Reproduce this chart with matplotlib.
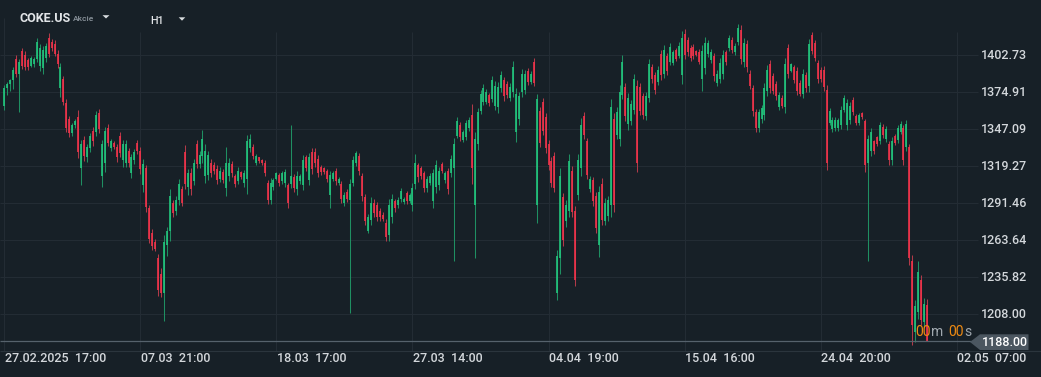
import matplotlib
matplotlib.use("Agg")
import matplotlib.pyplot as plt
from matplotlib.patches import Polygon
from matplotlib.transforms import blended_transform_factory as blend

# ---------------- data ----------------
opens = [
    1365,1378,1381.5,1384,1400,1389,1406,1403,1399,1395,1396,1400,1395,1393,1401,1416,1413,1411,1404,1378,
    1385,1367,1355,1344,1350,1356,1318,1339,1326,1333,1346,1345,1359,1312,1322,1348,1333,1337,1334,1342,
    1324,1322,1331,1314,1324,1337,1331,1305,1318,1288,1269,1262,1250,1238,1224,1260,1271,1292,1286,1294,
    1302,1330,1304,
    1314,1308,1336,1321,1327,1312,1313,1322,1320,1317,1310,1315,1303,1312,1321,1312,1308,1315,1307,1310,
    1333,1334,1322,1326,1324,1322,1307,1294,1304,1310,1313,1308,1307,1305,1306,1311,1302,1308,1305,1326,
    1309,1330,1330,1325,1319,1318,1316,1298,1310,1316,1306.5,1306,1292,1300,1294,1307,1322,1327,1312,1296,
    1271,1279,1292,1290,
    1286,1283,1277,1268,1281,1293,1290,1295,1292.5,1299,1293.5,1290,1306,1320,1318,1314,1303,1307,1293,1304,
    1305,1321,1309,1316,1314,1318,1342,1350,1339,1341,1348,1358,1290,1336,1361,1368,1368,1373,1370,1365,
    1364,1378,1384,1381,1371,1375,1345,1355,1375,1377,1391,1383,1398,1290,1361,1368,1356,1336,1323,1327,
    1224,1250,1296,1278,
    1286,1316,1286,1298,1318,1357,1338,1302,1309,1297,1260,1306,1278,1282,1290,1355,1343,1340,1373,1379,
    1351,1353,1362,1380,1379,1372,1357,1371,1394,1388,1383,1404,1389,1402,1398,1397,1406.5,1402,1388,1419,
    1414,1408,1409,1406,1405,1385,1393,1404,1399,1402,1382,1385,1389,1405,1408,1414,1405,1413,1422,1398,
    1411,1389,1378,
    1360,1348,1355,1358,1376,1396,1387,1381,1364,1371,1364,1408,1391,1394,1391,1382,1374,1388,1380,1418,
    1412,1397,1392,1392,1377,1352,1347,1348,1348,1350,1362,1350,1354,1369,1357,1352,1359.5,1353,1322,1331,
    1338,1341,1338,1349,1340,1336,1324,1342,1339,1345,1348,1334,1334,1248,1195,1210,1234,1202,1215,
]
highs = [
    1380.5,1382.8,1385.0,1394.0,1403.0,1400.0,1408.3,1406.0,1400.8,1402.3,1401.5,1415.8,1411.3,1409.8,1412.0,
    1419.5,1415.0,1414.3,1406.8,1397.0,1387.3,1370.0,1357.3,1352.0,1355.0,1361.8,1339.3,1342.3,1336.3,1344.5,
    1349.0,1361.0,1362.5,1339.3,1349.0,1351.3,1340.0,1338.5,1336.3,1345.3,1339.3,1339.3,1333.3,1328.8,1332.5,
    1339.3,1334.0,1325.0,1320.5,1290.5,1271.8,1264.3,1253.0,1242.5,1268.0,1274.0,1302.5,1294.3,1297.3,1310.0,
    1304.8,1335.5,1317.5,
    1318.3,1325.0,1339.3,1331.0,1346.8,1336.3,1331.0,1325.0,1322.8,1320.5,1319.0,1317.5,1334.0,1325.8,1323.5,
    1313.8,1319.0,1316.0,1316.8,1343.0,1343.8,1336.3,1328.8,1326.5,1325.0,1324.3,1309.3,1310.8,1310.8,1315.3,
    1314.5,1316.0,1317.5,1307.0,1350.5,1313.8,1316.0,1313.8,1328.0,1328.0,1329.5,1333.3,1333.3,1328.0,1320.5,
    1319.0,1317.5,1316.0,1316.0,1318.3,1311.5,1308.5,1300.3,1302.5,1310.0,1327.3,1331.0,1329.5,1314.5,1298.8,
    1283.8,1296.5,1295.0,1292.8,
    1288.3,1285.3,1279.3,1295.0,1298.8,1295.0,1296.5,1303.3,1296.5,1301.0,1299.5,1307.0,1328.8,1322.0,1319.8,
    1316.0,1312.3,1314.5,1317.5,1324.3,1319.0,1322.8,1316.0,1318.3,1328.0,1340.8,1356.5,1352.8,1346.8,1354.3,
    1356.5,1366.3,1345.3,1363.3,1376.8,1381.3,1377.5,1374.5,1387.3,1383.5,1382.8,1391.0,1386.5,1383.5,1382.0,
    1398.5,1378.3,1375.3,1392.5,1391.8,1393.3,1391.0,1400.8,1373.8,1364.0,1370.8,1359.5,1339.3,1326.5,1330.3,
    1256.0,1318.3,1299.5,1294.3,
    1328.8,1319.8,1289.8,1328.8,1355.8,1360.3,1340.8,1312.3,1311.5,1300.3,1304.8,1310.8,1295.8,1297.3,1370.0,
    1359.5,1364.0,1380.5,1403.0,1382.0,1374.5,1369.3,1388.8,1384.3,1382.0,1374.5,1375.3,1400.0,1396.3,1390.3,
    1394.8,1406.8,1410.5,1404.5,1412.0,1406.8,1408.3,1412.8,1421.0,1422.5,1416.5,1410.5,1411.3,1406.8,1407.5,
    1410.5,1416.5,1414.3,1407.5,1404.5,1391.8,1400.8,1406.8,1406.8,1418.0,1416.5,1412.0,1426.3,1425.5,1415.8,
    1414.3,1391.8,1380.5,
    1362.5,1362.5,1365.5,1382.0,1395.5,1399.3,1389.5,1383.5,1375.3,1373.0,1400.8,1411.3,1397.0,1395.5,1394.0,
    1384.3,1392.5,1390.3,1415.0,1420.3,1414.3,1399.3,1394.0,1394.8,1380.5,1363.3,1356.5,1356.5,1355.8,1364.8,
    1373.0,1370.0,1367.8,1371.5,1358.8,1359.5,1360.3,1355.0,1343.0,1348.3,1339.3,1342.3,1352.8,1351.3,1349.8,
    1338.5,1341.5,1343.8,1350.5,1353.5,1350.5,1354.3,1336.3,1252.3,1218.5,1247.8,1237.3,1220.0,1219.3,
]
lows = [
    1361.3,1373.0,1376.0,1377.5,1386.8,1359.8,1392.5,1391.8,1391.8,1394.0,1394.0,1397.8,1391.0,1388.8,1397.8,
    1401.5,1406.0,1402.3,1393.3,1371.5,1365.5,1345.3,1341.5,1342.3,1348.3,1325.8,1305.5,1323.5,1322.8,1330.3,
    1334.8,1342.3,1344.5,1304.0,1315.3,1334.8,1331.0,1332.5,1322.8,1326.5,1319.0,1319.0,1319.0,1310.8,1321.3,
    1328.8,1313.8,1300.3,1285.3,1261.3,1256.0,1255.3,1221.5,1220.8,1202.8,1251.5,1262.8,1280.8,1283.0,1290.5,
    1289.8,1302.5,1298.0,
    1298.0,1305.5,1318.3,1318.3,1322.0,1307.0,1309.3,1311.5,1313.8,1306.3,1307.8,1307.0,1297.3,1308.5,1311.5,
    1304.0,1306.3,1310.0,1304.0,1298.8,1330.3,1325.0,1320.5,1322.0,1320.5,1312.3,1291.3,1291.3,1301.8,1309.3,
    1304.8,1306.3,1304.0,1288.3,1303.3,1300.3,1298.0,1306.3,1301.8,1316.0,1305.5,1313.8,1319.0,1311.5,1313.0,
    1313.8,1307.8,1288.3,1308.5,1305.5,1305.5,1292.0,1289.8,1292.8,1208.8,1304.8,1319.8,1313.0,1293.5,1274.8,
    1268.8,1275.5,1281.5,1277.8,
    1278.5,1277.8,1263.5,1263.5,1277.0,1285.3,1288.3,1292.8,1291.3,1291.3,1292.0,1286.0,1302.5,1307.8,1310.0,
    1300.3,1300.3,1305.5,1288.3,1299.5,1301.8,1314.5,1307.0,1298.8,1311.5,1247.8,1340.8,1338.5,1337.8,1339.3,
    1346.0,1306.3,1250.0,1331.8,1358.8,1365.5,1366.3,1364.8,1367.8,1361.8,1359.5,1375.3,1368.5,1370.8,1368.5,
    1371.5,1337.8,1350.5,1371.5,1373.8,1380.5,1381.3,1379.8,1276.3,1334.0,1343.0,1329.5,1316.8,1304.0,1300.3,
    1218.5,1238.0,1259.0,1274.0,
    1280.8,1280.8,1229.0,1294.3,1312.3,1340.0,1310.0,1300.3,1289.8,1269.5,1250.8,1274.8,1274.8,1278.5,1281.5,
    1285.3,1340.0,1334.8,1370.0,1353.5,1346.8,1350.5,1358.8,1315.3,1358.0,1355.0,1354.3,1367.8,1382.0,1373.8,
    1380.5,1384.3,1385.8,1388.0,1395.5,1395.5,1398.5,1400.8,1381.3,1400.0,1402.3,1398.5,1400.0,1402.3,1396.3,
    1376.0,1388.8,1401.5,1397.0,1383.5,1379.8,1382.0,1385.0,1395.5,1406.0,1404.5,1403.0,1410.5,1396.3,1394.0,
    1390.3,1377.5,1357.3,
    1345.3,1345.3,1352.0,1354.3,1372.3,1374.5,1373.8,1369.3,1361.8,1363.3,1359.5,1385.8,1390.3,1382.0,1373.0,
    1372.3,1370.8,1375.3,1375.3,1403.8,1398.5,1382.0,1382.8,1376.0,1316.8,1350.5,1345.3,1346.0,1346.0,1347.5,
    1360.3,1346.8,1351.3,1358.0,1350.5,1350.5,1355.0,1315.3,1247.8,1327.3,1328.8,1334.8,1336.3,1340.8,1337.8,
    1320.5,1320.5,1335.5,1337.0,1343.8,1320.5,1331.0,1244.8,1184.8,1187.0,1204.3,1199.8,1198.3,1187.8,
]
closes = [
    1378,1381.5,1384,1392,1389,1398,1395,1394,1394,1401,1400,1413,1408,1407,1410,1404,1408,1404,1396,1394,
    1368,1348,1344,1350,1353,1330,1336,1327,1334,1342,1338,1358,1347,1336,1346,1337,1338,1334,1326,1329,
    1336,1336,1322,1326,1330,1331,1317,1321,1289,1265,1259,1257,1226,1224,1262,1271,1297,1284,1294,1306,
    1292,1306,1314,
    1302,1322,1321,1328,1340,1331,1328,1314,1316,1309,1316,1309,1322,1322,1314,1306,1316,1311,1314,1338,
    1340,1327,1327,1323,1321.5,1314,1294,1307,1309,1314,1307,1314,1315,1292,1312,1303,1312,1312,1324,1318,
    1326,1317,1322,1314,1315,1315,1310,1313,1314,1308,1310,1295,1298,1295,1306,1324,1329,1316,1297,1278,
    1281,1292,1284,1281,
    1281,1280,1266,1290,1295,1288,1294,1301,1295,1293,1298,1303,1322,1311,1312,1303,1310,1312,1314,1320,
    1316,1316,1314,1302,1325,1336,1353,1341,1345,1352,1354,1318,1340,1360,1374,1378,1375,1367,1384,1380,
    1379,1388,1372,1373,1379,1394,1374,1372,1389,1389,1383,1389,1382,1370,1337,1346,1333,1320,1307,1303,
    1252,1312,1264,1290,
    1323,1285,1234,1324,1350,1343,1313,1310,1293,1273,1300,1279,1292,1294,1364,1290,1360,1375,1398,1357,
    1371,1366,1385,1322,1361,1358,1372,1396,1385,1377,1392,1388,1407,1391,1409,1405,1400,1410,1416,1403,
    1405,1401,1402,1403,1398,1406,1412,1412,1405,1387,1389,1397,1403,1398,1416,1407,1410,1423,1400,1412,
    1394,1380,1361,
    1348,1360,1363,1378,1392,1378,1376,1372,1373,1365,1396,1389,1396,1384,1376,1374,1389,1378,1411,1406,
    1401,1385,1385,1379,1322,1361,1354,1354,1354,1362,1371,1367,1365,1360,1352,1358,1356,1320,1340,1345,
    1331,1336,1350,1343,1347,1324,1338,1337,1348,1351,1324,1351,1250,1200,1214,1240,1204,1216,1188,
]

price_ticks = [1402.73, 1374.91, 1347.09, 1319.27, 1291.46, 1263.64, 1235.82, 1208.00]
time_tick_pos = [0, 46, 92, 138, 184, 230, 276, 322]
time_tick_labels = ["27.02.2025  17:00", "07.03  21:00", "18.03  17:00", "27.03  14:00",
                    "04.04  19:00", "15.04  16:00", "24.04  20:00", "02.05  07:00"]
last_price = 1188.00
symbol = "COKE.US"
asset_type = "Akcie"
timeframe = "H1"

# ---------------- style ----------------
W, H = 1041, 377
BG = "#172027"
GRID = "#232c34"
G_BODY, G_WICK = "#22c77e", "#1f8f62"
R_BODY, R_WICK = "#f2334b", "#b23a49"
TXT = "#d3d7db"

plt.rcParams['font.family'] = ['Roboto', 'DejaVu Sans']

fig = plt.figure(figsize=(W / 100, H / 100), dpi=100, facecolor=BG)
ax = fig.add_axes([0, 0, 1, 1])
ax.set_facecolor(BG)
ax.set_axis_off()

# pixel layout helpers (layout only)
BAR_STEP = 136.06 / 46.0
X0PX = 4.3
def x_from_px(p):
    return (p - X0PX) / BAR_STEP
PPX = 27.82 / 37.0
def y_from_px(p):
    return 1402.73 - (p - 55.33) * PPX

ax.set_xlim(x_from_px(0), x_from_px(W))
ax.set_ylim(y_from_px(H), y_from_px(0))

fx = lambda p: p / W
fy = lambda p: 1 - p / H

# grid
ax.hlines(price_ticks, x_from_px(0), x_from_px(978), colors=GRID, lw=0.75, zorder=1)
for k, t in enumerate(time_tick_pos):
    top = y_from_px(18 if k == 0 else 32)
    ax.vlines(t, y_from_px(351), top, colors=GRID, lw=0.75, zorder=1)
# bottom axis line
ax.hlines(y_from_px(351), x_from_px(0), x_from_px(W), colors="#2b353d", lw=0.8, zorder=1)

# candles
n = len(closes)
xs = list(range(n))
up = [closes[i] >= opens[i] for i in range(n)]
wick_colors = [G_WICK if u else R_WICK for u in up]
body_colors = [G_BODY if u else R_BODY for u in up]
ax.vlines(xs, lows, highs, colors=wick_colors, lw=0.75, zorder=3)
ax.vlines(xs, [min(o, c) for o, c in zip(opens, closes)],
          [max(o, c) for o, c in zip(opens, closes)], colors=body_colors, lw=1.2, zorder=4)

# current price line
ax.hlines(last_price, x_from_px(0), x_from_px(972), colors="#56626c", lw=0.9, zorder=5)

# price labels
tr_y = blend(fig.transFigure, ax.transData)
for p in price_ticks:
    ax.text(fx(981), p, f"{p:.2f}", transform=tr_y, ha="left", va="center",
            fontsize=9, color=TXT, fontweight="medium")

# time labels
tr_x = blend(ax.transData, fig.transFigure)
for t, lab in zip(time_tick_pos, time_tick_labels):
    ax.text(t + 0.15, fy(358), lab, transform=tr_x, ha="left", va="center",
            fontsize=9, color=TXT, fontweight="medium")

# last price box
yc = 342
box = Polygon([(fx(970), fy(yc)), (fx(980), fy(334.3)), (fx(1028.5), fy(334.3)),
               (fx(1028.5), fy(350)), (fx(980), fy(350))], closed=True,
              transform=fig.transFigure, facecolor="#4b5660", edgecolor="none", zorder=6)
fig.patches.append(box)
fig.text(fx(1004.5), fy(342.3), f"{last_price:.2f}", ha="center", va="center",
         fontsize=9, color="#ffffff", fontweight="medium", zorder=7)

# countdown
ORANGE = "#ee8a12"
GREY = "#a0a8af"
for txt, xp, col in [("00", 915, ORANGE), ("m", 931.5, GREY), ("00", 948.5, ORANGE), ("s", 964.5, GREY)]:
    fig.text(fx(xp), fy(332.5), txt, ha="left", va="center", fontsize=10, color=col, zorder=7)

# header
fig.text(fx(20), fy(18.8), symbol, ha="left", va="center", fontsize=9, color="#e2e5e8",
         fontweight="bold")
fig.text(fx(73), fy(19.2), asset_type, ha="left", va="center", fontsize=6, color="#8c959d",
         fontweight="medium")
fig.text(fx(150.5), fy(20.5), timeframe, ha="left", va="center", fontsize=7.7, color="#e2e5e8",
         fontweight="medium")
for x0, x1, y0, y1 in [(102.5, 109.5, 15.2, 18.5), (178.7, 185.3, 17.3, 20.7)]:
    tri = Polygon([(fx(x0), fy(y0)), (fx(x1), fy(y0)), (fx((x0 + x1) / 2), fy(y1))],
                  closed=True, transform=fig.transFigure, facecolor="#d8dcdf",
                  edgecolor="none")
    fig.patches.append(tri)

fig.savefig("out.png", dpi=100, facecolor=BG)
